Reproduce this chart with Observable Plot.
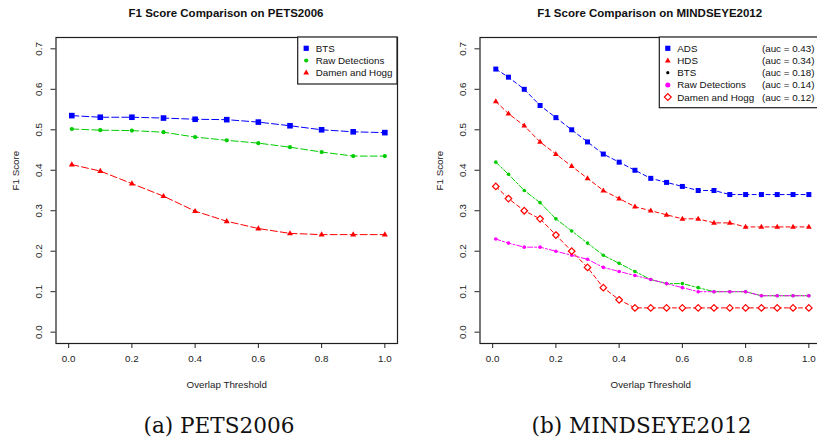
<!DOCTYPE html>
<html><head><meta charset="utf-8">
<script src="https://cdn.jsdelivr.net/npm/d3@7"></script>
<script src="https://cdn.jsdelivr.net/npm/@observablehq/plot@0.6"></script>
<style>
html,body{margin:0;padding:0;background:#fff;overflow:hidden;}
#root{position:relative;width:817px;height:439px;overflow:hidden;font-family:"Liberation Sans",Arial,sans-serif;}
.title{position:absolute;top:6px;width:400px;text-align:center;font-weight:bold;font-size:11.5px;line-height:14px;color:#111;white-space:nowrap;}
.caption{position:absolute;top:414px;width:400px;text-align:center;font-family:"DejaVu Serif",serif;font-size:21.6px;line-height:24px;color:#111;white-space:nowrap;}
.panel{position:absolute;top:0;}
.legend{position:absolute;top:0;left:0;}
</style>
</head><body>
<div id="root"></div>
<script>
// ---------- data ----------
const xTicks = [0, 0.2, 0.4, 0.6, 0.8, 1.0];
const yTicks = [0, 0.1, 0.2, 0.3, 0.4, 0.5, 0.6, 0.7];

const petsTitle = "F1 Score Comparison on PETS2006";
const petsCaption = "(a) PETS2006";
const petsX = [0.01, 0.1, 0.2, 0.3, 0.4, 0.5, 0.6, 0.7, 0.8, 0.9, 1.0];
const petsBTS = [0.535, 0.531, 0.531, 0.529, 0.526, 0.525, 0.519, 0.510, 0.500, 0.495, 0.493];
const petsRaw = [0.502, 0.499, 0.498, 0.494, 0.482, 0.474, 0.467, 0.457, 0.445, 0.435, 0.435];
const petsDamen = [0.414, 0.398, 0.367, 0.336, 0.299, 0.274, 0.256, 0.244, 0.241, 0.241, 0.241];
const petsLegend = ["BTS", "Raw Detections", "Damen and Hogg"];

const mindTitle = "F1 Score Comparison on MINDSEYE2012";
const mindCaption = "(b) MINDSEYE2012";
const mindX = [0.01, 0.05, 0.1, 0.15, 0.2, 0.25, 0.3, 0.35, 0.4, 0.45, 0.5, 0.55, 0.6, 0.65, 0.7, 0.75, 0.8, 0.85, 0.9, 0.95, 1.0];
const mindADS = [0.65, 0.63, 0.60, 0.56, 0.53, 0.50, 0.47, 0.44, 0.42, 0.40, 0.38, 0.37, 0.36, 0.35, 0.35, 0.34, 0.34, 0.34, 0.34, 0.34, 0.34];
const mindHDS = [0.57, 0.54, 0.51, 0.47, 0.44, 0.41, 0.38, 0.35, 0.33, 0.31, 0.30, 0.29, 0.28, 0.28, 0.27, 0.27, 0.26, 0.26, 0.26, 0.26, 0.26];
const mindBTS = [0.42, 0.39, 0.35, 0.32, 0.28, 0.25, 0.22, 0.19, 0.17, 0.15, 0.13, 0.12, 0.12, 0.11, 0.10, 0.10, 0.10, 0.09, 0.09, 0.09, 0.09];
const mindRaw = [0.23, 0.22, 0.21, 0.21, 0.20, 0.19, 0.18, 0.16, 0.15, 0.14, 0.13, 0.12, 0.11, 0.10, 0.10, 0.10, 0.10, 0.09, 0.09, 0.09, 0.09];
const mindDamen = [0.36, 0.33, 0.30, 0.28, 0.24, 0.20, 0.16, 0.11, 0.08, 0.06, 0.06, 0.06, 0.06, 0.06, 0.06, 0.06, 0.06, 0.06, 0.06, 0.06, 0.06];
const mindLegend = ["ADS", "HDS", "BTS", "Raw Detections", "Damen and Hogg"];
const mindAuc = [0.43, 0.34, 0.18, 0.14, 0.12];

// ---------- symbols (size = PI r^2) ----------
const rOf = size => Math.sqrt(size / Math.PI);
const symSquare = {draw(c, size){ const r = rOf(size); c.rect(-r, -r, 2*r, 2*r); }};
const symTriangle = {draw(c, size){ const r = rOf(size); c.moveTo(0, -1.25*r); c.lineTo(1.15*r, 0.75*r); c.lineTo(-1.15*r, 0.75*r); c.closePath(); }};
const symDiamond = {draw(c, size){ const r = rOf(size); c.moveTo(0, -r); c.lineTo(r, 0); c.lineTo(0, r); c.lineTo(-r, 0); c.closePath(); }};
const symCircle = {draw(c, size){ const r = rOf(size); c.moveTo(r, 0); c.arc(0, 0, r, 0, 2*Math.PI); }};

const BLUE = "#0000ff", RED = "#ff0000", GREEN = "#00cd00", MAGENTA = "#ff00ff", BLACK = "#000000";

const petsSeries = [
  {ys: petsBTS, color: BLUE, sym: symSquare, r: 2.8, fill: BLUE, dash: "7,3"},
  {ys: petsRaw, color: GREEN, sym: symCircle, r: 2.1, fill: GREEN, dash: "7,3"},
  {ys: petsDamen, color: RED, sym: symTriangle, r: 2.6, fill: RED, dash: "7,3"}
];
const mindSeries = [
  {ys: mindADS, color: BLUE, sym: symSquare, r: 2.5, fill: BLUE, dash: "4,3"},
  {ys: mindHDS, color: RED, sym: symTriangle, r: 2.5, fill: RED, dash: "4,3"},
  {ys: mindBTS, color: GREEN, sym: symCircle, r: 1.8, fill: GREEN, dash: "5,2,2,2"},
  {ys: mindRaw, color: MAGENTA, sym: symCircle, r: 1.8, fill: MAGENTA, dash: "5,2,2,2"},
  {ys: mindDamen, color: RED, sym: symDiamond, r: 3.3, fill: "white", dash: "4,3", sw: 1.2}
];

function panel(xs, series) {
  const marks = [];
  for (const s of series) {
    const data = xs.map((x, i) => ({x, y: s.ys[i]}));
    marks.push(Plot.line(data, {x: "x", y: "y", stroke: s.color, strokeWidth: 1, strokeDasharray: s.dash}));
  }
  for (const s of series) {
    const data = xs.map((x, i) => ({x, y: s.ys[i]}));
    marks.push(Plot.dot(data, {x: "x", y: "y", symbol: s.sym, r: s.r, fill: s.fill,
      stroke: s.fill === "white" ? s.color : "none", strokeWidth: s.sw || 1}));
  }
  return Plot.plot({
    width: 410, height: 400,
    marginLeft: 55.5, marginRight: 13, marginTop: 37, marginBottom: 57,
    x: {domain: [-0.04, 1.04]},
    y: {domain: [-0.028, 0.728]},
    style: {fontFamily: "'Liberation Sans', Arial, sans-serif", fontSize: "9.8px", color: "#222", background: "transparent", overflow: "visible"},
    marks: [
      Plot.axisX(xTicks, {tickSize: 5, tickPadding: 7, tickFormat: d3.format(".1f"), label: null, stroke: "#222", strokeWidth: 1}),
      Plot.axisY(yTicks, {tickSize: 5, tickPadding: 9, tickRotate: -90, tickFormat: d3.format(".1f"), label: null, stroke: "#222", strokeWidth: 1}),
      Plot.text(["Overlap Threshold"], {text: d => d, frameAnchor: "bottom", dy: 41, lineAnchor: "middle", fill: "#222"}),
      Plot.text(["F1 Score"], {text: d => d, frameAnchor: "left", dx: -40.5, rotate: -90, lineAnchor: "middle", fill: "#222"}),
      ...marks,
      Plot.frame({stroke: "#1e1e1e", strokeWidth: 1.2})
    ]
  });
}

const root = document.getElementById("root");

function addDiv(cls, text, left) {
  const d = document.createElement("div");
  d.className = cls; d.textContent = text; d.style.left = left + "px";
  root.appendChild(d);
}

const p1 = panel(petsX, petsSeries);
p1.classList.add("panel"); p1.style.left = "0px";
root.appendChild(p1);
const p2 = panel(mindX, mindSeries);
p2.classList.add("panel"); p2.style.left = "423.5px";
root.appendChild(p2);

addDiv("title", petsTitle, 26);
addDiv("title", mindTitle, 449.7);
addDiv("caption", petsCaption, 19);
addDiv("caption", mindCaption, 441.5);

// ---------- legends ----------
const lsvg = d3.select(root).append("svg").attr("class", "legend")
  .attr("width", 817).attr("height", 439)
  .style("font-family", "'Liberation Sans', Arial, sans-serif").style("font-size", "9.8px");

function legend(x0, y0, w, h, labels, styles, aucs) {
  lsvg.append("rect").attr("x", x0).attr("y", y0).attr("width", w).attr("height", h)
    .attr("fill", "white").attr("stroke", "#1e1e1e").attr("stroke-width", 1.2);
  labels.forEach((lab, i) => {
    const cy = y0 + 11.3 + i * 12.2;
    const st = styles[i];
    lsvg.append("path").attr("transform", `translate(${x0 + 8.5},${cy})`)
      .attr("d", d3.symbol(st.sym, Math.PI * st.r * st.r)())
      .attr("fill", st.fill).attr("stroke", st.fill === "white" ? st.color : "none").attr("stroke-width", 1.2);
    lsvg.append("text").attr("x", x0 + 18).attr("y", cy).attr("dy", "0.35em").attr("fill", "#111").text(lab);
    if (aucs) {
      lsvg.append("text").attr("x", 814.5).attr("y", cy).attr("dy", "0.35em").attr("text-anchor", "end")
        .attr("fill", "#111").text(`(auc = ${aucs[i].toFixed(2)})`);
    }
  });
}

legend(297.7, 37, 99.3, 47, petsLegend, [
  {sym: symSquare, r: 2.6, fill: BLUE},
  {sym: symCircle, r: 2.1, fill: GREEN},
  {sym: symTriangle, r: 2.5, fill: RED}
]);
legend(659.3, 37, 170, 70.7, mindLegend, [
  {sym: symSquare, r: 2.6, fill: BLUE},
  {sym: symTriangle, r: 2.5, fill: RED},
  {sym: symCircle, r: 1.6, fill: BLACK},
  {sym: symCircle, r: 2.5, fill: MAGENTA},
  {sym: symDiamond, r: 3.4, fill: "white", color: RED}
], mindAuc);
</script>
</body></html>
